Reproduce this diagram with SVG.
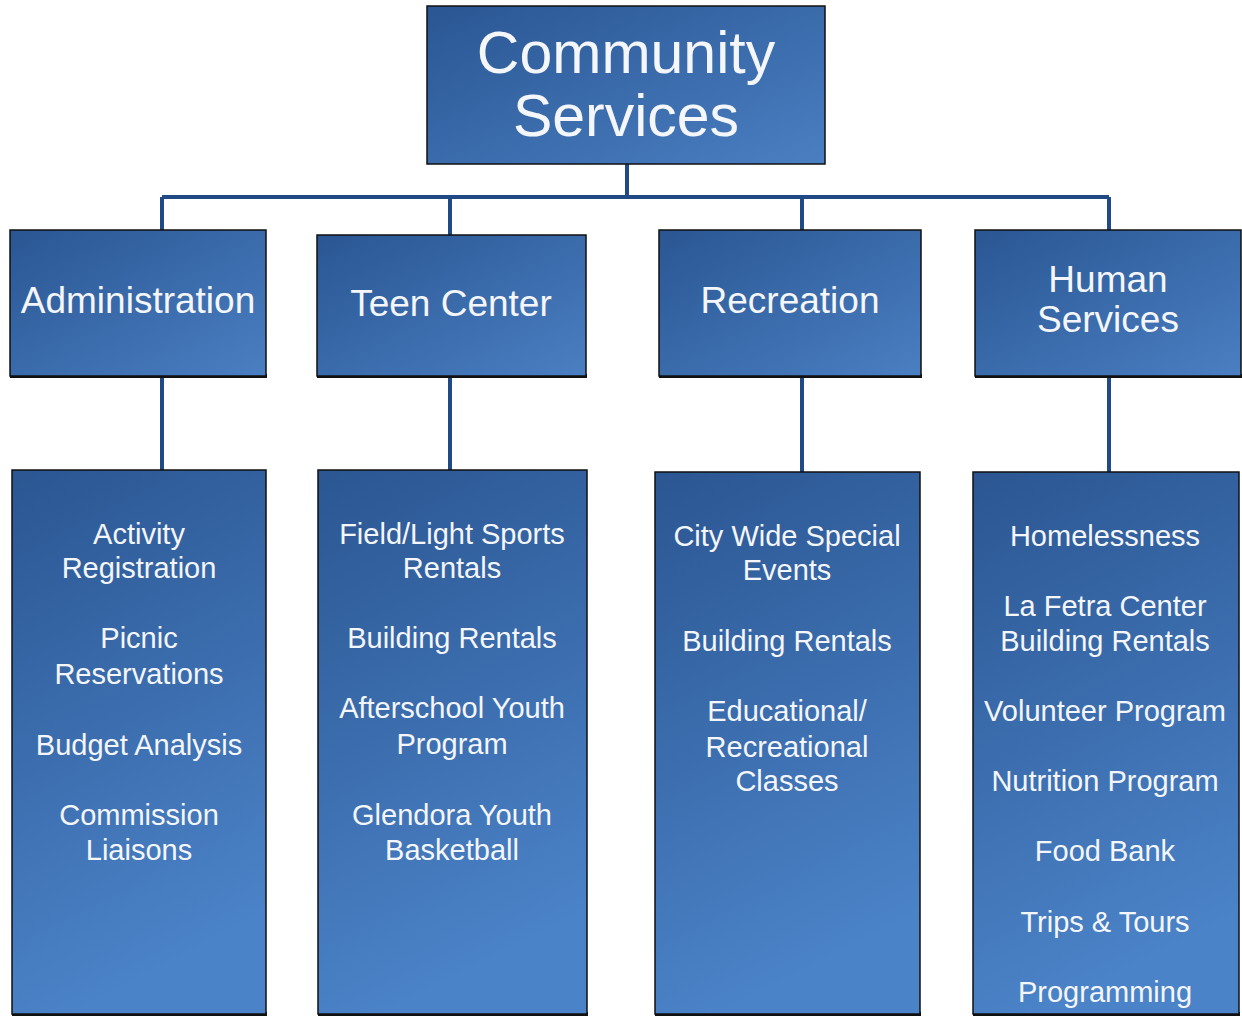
<svg xmlns="http://www.w3.org/2000/svg" width="1242" height="1017" viewBox="0 0 1242 1017">
<defs>
<linearGradient id="gH" x1="0" y1="0" x2="1" y2="1">
<stop offset="0" stop-color="#2a5693"/>
<stop offset="1" stop-color="#4a7fc2"/>
</linearGradient>
<linearGradient id="gV" x1="0" y1="0" x2="0.25" y2="1">
<stop offset="0" stop-color="#2b5692"/>
<stop offset="1" stop-color="#4b83c8"/>
</linearGradient>
<style>
.box{stroke:#111;stroke-width:1.5}
.h{fill:url(#gH)}
.v{fill:url(#gV)}
.sh{fill:#111}
text{font-family:"Liberation Sans",Arial,sans-serif;fill:#f4f6fa;text-anchor:middle}
.t1{font-size:59px}
.t2{font-size:37px}
.t3{font-size:29px}
.con{stroke:#1f4a85;stroke-width:4;fill:none}
</style>
</defs>
<g id="connectors">
<path class="con" d="M627 164V197M162 197H1109M162 197V230M450 197V235M802 197V230M1109 197V230"/>
<path class="con" d="M162 377V470M450 377V470M802 377V472M1109 377V472"/>
</g>
<g id="community-services">
<rect class="box h" x="427" y="6" width="398" height="158"/>
<text class="t1" x="626" y="73">Community</text>
<text class="t1" x="626" y="136">Services</text>
</g>
<g id="administration">
<rect class="sh" x="10" y="374" width="257" height="4"/>
<rect class="box h" x="10" y="230" width="256" height="146"/>
<text class="t2" x="138" y="313">Administration</text>
</g>
<g id="teen-center">
<rect class="sh" x="317" y="374" width="270" height="4"/>
<rect class="box h" x="317" y="235" width="269" height="141"/>
<text class="t2" x="451" y="316">Teen Center</text>
</g>
<g id="recreation">
<rect class="sh" x="659" y="374" width="263" height="4"/>
<rect class="box h" x="659" y="230" width="262" height="146"/>
<text class="t2" x="790" y="313">Recreation</text>
</g>
<g id="human-services">
<rect class="sh" x="975" y="374" width="267" height="4"/>
<rect class="box h" x="975" y="230" width="266" height="146"/>
<text class="t2" x="1108" y="292">Human</text>
<text class="t2" x="1108" y="332">Services</text>
</g>
<g id="admin-list">
<rect class="sh" x="12" y="1012" width="255" height="4"/>
<rect class="box v" x="12" y="470" width="254" height="544"/>
<text class="t3" x="139" y="544">Activity</text>
<text class="t3" x="139" y="578">Registration</text>
<text class="t3" x="139" y="648">Picnic</text>
<text class="t3" x="139" y="684">Reservations</text>
<text class="t3" x="139" y="755">Budget Analysis</text>
<text class="t3" x="139" y="825">Commission</text>
<text class="t3" x="139" y="860">Liaisons</text>
</g>
<g id="teen-list">
<rect class="sh" x="318" y="1012" width="270" height="4"/>
<rect class="box v" x="318" y="470" width="269" height="544"/>
<text class="t3" x="452" y="544">Field/Light Sports</text>
<text class="t3" x="452" y="578">Rentals</text>
<text class="t3" x="452" y="648">Building Rentals</text>
<text class="t3" x="452" y="718">Afterschool Youth</text>
<text class="t3" x="452" y="754">Program</text>
<text class="t3" x="452" y="825">Glendora Youth</text>
<text class="t3" x="452" y="860">Basketball</text>
</g>
<g id="recreation-list">
<rect class="sh" x="655" y="1012" width="266" height="4"/>
<rect class="box v" x="655" y="472" width="265" height="542"/>
<text class="t3" x="787" y="546">City Wide Special</text>
<text class="t3" x="787" y="580">Events</text>
<text class="t3" x="787" y="651">Building Rentals</text>
<text class="t3" x="787" y="721">Educational/</text>
<text class="t3" x="787" y="757">Recreational</text>
<text class="t3" x="787" y="791">Classes</text>
</g>
<g id="human-list">
<rect class="sh" x="973" y="1012" width="267" height="4"/>
<rect class="box v" x="973" y="472" width="266" height="542"/>
<text class="t3" x="1105" y="546">Homelessness</text>
<text class="t3" x="1105" y="616">La Fetra Center</text>
<text class="t3" x="1105" y="651">Building Rentals</text>
<text class="t3" x="1105" y="721">Volunteer Program</text>
<text class="t3" x="1105" y="791">Nutrition Program</text>
<text class="t3" x="1105" y="861">Food Bank</text>
<text class="t3" x="1105" y="932">Trips &amp; Tours</text>
<text class="t3" x="1105" y="1002">Programming</text>
</g>
</svg>
